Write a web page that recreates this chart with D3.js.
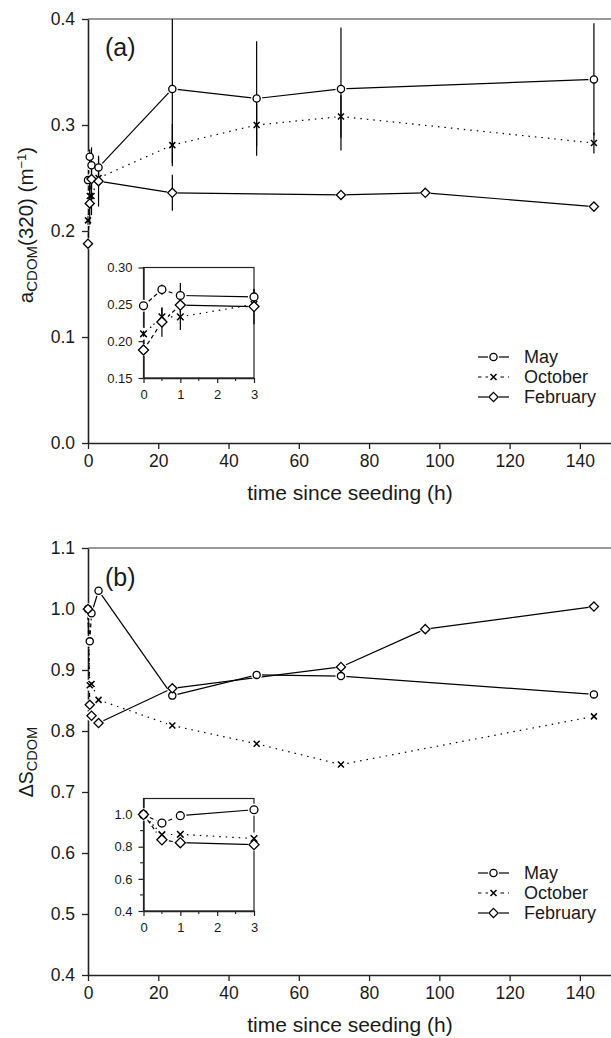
<!DOCTYPE html>
<html>
<head>
<meta charset="utf-8">
<script src="https://cdn.jsdelivr.net/npm/d3@7"></script>
<style>
body { margin: 0; background: #fff; }
text { font-family: "Liberation Sans", Arial, sans-serif; fill: #1a1a1a; }
</style>
</head>
<body>
<div id="chart"></div>
<script>
var width = 611;
var height = 1038;

// sampling times (h) per campaign
var tMay = [0, 0.5, 1, 3, 24, 48, 72, 144];
var tOct = [0, 0.5, 1, 3, 24, 48, 72, 144];
var tFeb = [0, 0.5, 1, 3, 24, 72, 96, 144];

// panel (a): aCDOM(320) and its error bars
var aMay    = [0.248, 0.270, 0.262, 0.260, 0.334, 0.325, 0.334, 0.343];
var aMayErr = [0, 0.007, 0.017, 0.010, 0.070, 0.054, 0.058, 0.053];
var aOct    = [0.210, 0.233, 0.233, 0.250, 0.281, 0.300, 0.308, 0.283];
var aOctErr = [0.004, 0.012, 0.018, 0.005, 0.020, 0.020, 0.020, 0.010];
var aFeb    = [0.188, 0.226, 0.249, 0.247, 0.236, 0.234, 0.236, 0.223];
var aFebErr = [0, 0.020, 0.010, 0.024, 0.017, 0, 0, 0];

// panel (b): delta S_CDOM
var sMay = [1.000, 0.947, 0.993, 1.030, 0.858, 0.892, 0.890, 0.860];
var sOct = [1.000, 0.875, 0.877, 0.851, 0.809, 0.779, 0.745, 0.824];
var sFeb = [1.000, 0.843, 0.825, 0.813, 0.870, 0.905, 0.967, 1.004];

var seriesNames = ["May", "October", "February"];
var xTicks = [0, 20, 40, 60, 80, 100, 120, 140];
var aTicks = [0.0, 0.1, 0.2, 0.3, 0.4];
var sTicks = [0.4, 0.5, 0.6, 0.7, 0.8, 0.9, 1.0, 1.1];
var insetXTicks = [0, 1, 2, 3];
var insetXMinor = [0.5, 1.5, 2.5];
var insetATicks = [0.15, 0.20, 0.25, 0.30];
var insetSTicks = [0.4, 0.6, 0.8, 1.0];
var insetSMinor = [0.5, 0.7, 0.9];

var svg = d3.select("#chart").append("svg")
    .attr("width", width)
    .attr("height", height);

var markerType = {May: "circle", October: "cross", February: "diamond"};

function drawMarker(g, type, cx, cy, s) {
    if (type === "circle") {
        g.append("circle").attr("cx", cx).attr("cy", cy).attr("r", 3.6 * s)
            .attr("fill", "#fff").attr("stroke", "#000").attr("stroke-width", 1.3);
    } else if (type === "diamond") {
        var r = 4.6 * s;
        g.append("path")
            .attr("d", "M" + cx + "," + (cy - r) + "L" + (cx + r) + "," + cy + "L" + cx + "," + (cy + r) + "L" + (cx - r) + "," + cy + "Z")
            .attr("fill", "#fff").attr("stroke", "#000").attr("stroke-width", 1.3);
    } else {
        var c = 3 * s;
        g.append("path")
            .attr("d", "M" + (cx - c) + "," + (cy - c) + "L" + (cx + c) + "," + (cy + c) + "M" + (cx - c) + "," + (cy + c) + "L" + (cx + c) + "," + (cy - c))
            .attr("fill", "none").attr("stroke", "#000").attr("stroke-width", 1.5);
    }
}

// dash for a segment ending at time t
function segDash(name, t) {
    if (name === "October") return t <= 1 ? "1.5,3" : "1.5,5";
    return t <= 1 ? "4,3" : null;
}

function drawSeries(g, x, y, series, tMax, s, clipId) {
    var lines = g.append("g");
    var halos = g.append("g");
    var bars = g.append("g").attr("clip-path", "url(#" + clipId + ")");
    var marks = g.append("g");
    series.forEach(function(d) {
        var pts = d.t.map(function(t, i) { return {t: t, v: d.v[i], e: d.e ? d.e[i] : 0}; })
            .filter(function(p) { return p.t <= tMax; });
        for (var i = 0; i < pts.length - 1; i++) {
            lines.append("line")
                .attr("x1", x(pts[i].t)).attr("y1", y(pts[i].v))
                .attr("x2", x(pts[i + 1].t)).attr("y2", y(pts[i + 1].v))
                .attr("stroke", "#000").attr("stroke-width", 1.2)
                .attr("stroke-dasharray", segDash(d.name, pts[i + 1].t));
        }
        pts.forEach(function(p) {
            halos.append("circle").attr("cx", x(p.t)).attr("cy", y(p.v))
                .attr("r", 5.5 * s).attr("fill", "#fff");
            if (p.e > 0) {
                bars.append("line")
                    .attr("x1", x(p.t)).attr("x2", x(p.t))
                    .attr("y1", y(p.v - p.e)).attr("y2", y(p.v + p.e))
                    .attr("stroke", "#000").attr("stroke-width", 1.2);
            }
        });
        pts.forEach(function(p) {
            drawMarker(marks, markerType[d.name], x(p.t), y(p.v), s);
        });
    });
}

function drawPanel(p) {
    var x = d3.scaleLinear().domain([0, 150]).range([88, 615]);
    var y = d3.scaleLinear().domain(p.yDomain).range([p.bottom, p.top]);
    var g = svg.append("g");

    svg.append("clipPath").attr("id", p.id + "clip")
        .append("rect").attr("x", 80).attr("y", p.top)
        .attr("width", 540).attr("height", p.bottom - p.top);

    g.append("line")
        .attr("x1", 88).attr("x2", 615).attr("y1", p.top).attr("y2", p.top)
        .attr("stroke", "#777").attr("stroke-width", 1.6);

    var xAxis = d3.axisBottom(x).tickValues(xTicks).tickSize(6).tickSizeOuter(0).tickPadding(6)
        .tickFormat(d3.format("d"));
    var gx = g.append("g").attr("transform", "translate(0," + p.bottom + ")").call(xAxis);
    var yAxis = d3.axisLeft(y).tickValues(p.yTicks).tickSize(6).tickSizeOuter(0).tickPadding(7)
        .tickFormat(d3.format(".1f"));
    var gy = g.append("g").attr("transform", "translate(88,0)").call(yAxis);
    [gx, gy].forEach(function(a) {
        a.select(".domain").attr("stroke", "#222").attr("stroke-width", 1.6);
        a.selectAll(".tick line").attr("stroke", "#222").attr("stroke-width", 1.3);
        a.selectAll(".tick text").style("font-size", "17.5px").attr("fill", "#1a1a1a");
    });

    g.append("text").attr("x", 350).attr("y", p.bottom + 57)
        .attr("text-anchor", "middle").style("font-size", "21px")
        .text("time since seeding (h)");

    g.append("text").attr("x", 105).attr("y", p.labelY)
        .style("font-size", "25px").text(p.label);

    drawSeries(g, x, y, p.series, 150, 1, p.id + "clip");

    // legend
    var lg = g.append("g");
    seriesNames.forEach(function(name, i) {
        var ly = p.legendY + i * 20;
        lg.append("line").attr("x1", 478).attr("x2", 509).attr("y1", ly).attr("y2", ly)
            .attr("stroke", "#000").attr("stroke-width", 1.2)
            .attr("stroke-dasharray", name === "October" ? "3.5,4" : null);
        lg.append("circle").attr("cx", 493.5).attr("cy", ly).attr("r", 5.5).attr("fill", "#fff");
        drawMarker(lg, markerType[name], 493.5, ly, 1);
        lg.append("text").attr("x", 524).attr("y", ly + 6).style("font-size", "18px").text(name);
    });
    return g;
}

function drawInset(p) {
    var x = d3.scaleLinear().domain([0, 3]).range([143.5, 254]);
    var y = d3.scaleLinear().domain(p.yDomain).range([p.bottom, p.top]);
    var g = svg.append("g");

    svg.append("clipPath").attr("id", p.id + "clip")
        .append("rect").attr("x", 130).attr("y", p.top)
        .attr("width", 140).attr("height", p.bottom - p.top);

    g.append("rect").attr("x", 143.5).attr("y", p.top)
        .attr("width", 254 - 143.5).attr("height", p.bottom - p.top)
        .attr("fill", "#fff").attr("stroke", "#222").attr("stroke-width", 1.2);

    var xAxis = d3.axisBottom(x).tickValues(insetXTicks).tickSize(5).tickSizeOuter(0).tickPadding(7)
        .tickFormat(d3.format("d"));
    var gx = g.append("g").attr("transform", "translate(0," + p.bottom + ")").call(xAxis);
    var yAxis = d3.axisLeft(y).tickValues(p.yTicks).tickSize(5).tickSizeOuter(0).tickPadding(6)
        .tickFormat(d3.format(p.fmt));
    var gy = g.append("g").attr("transform", "translate(143.5,0)").call(yAxis);
    [gx, gy].forEach(function(a) {
        a.select(".domain").attr("stroke", "#222").attr("stroke-width", 1.4);
        a.selectAll(".tick line").attr("stroke", "#222").attr("stroke-width", 1.2);
        a.selectAll(".tick text").style("font-size", "13px").attr("fill", "#1a1a1a");
    });
    // minor ticks
    insetXMinor.forEach(function(t) {
        g.append("line").attr("x1", x(t)).attr("x2", x(t))
            .attr("y1", p.bottom).attr("y2", p.bottom + 3)
            .attr("stroke", "#222").attr("stroke-width", 1.1);
    });
    p.yMinor.forEach(function(v) {
        g.append("line").attr("x1", 143.5).attr("x2", 140)
            .attr("y1", y(v)).attr("y2", y(v))
            .attr("stroke", "#222").attr("stroke-width", 1.1);
    });

    drawSeries(g, x, y, p.series, 3, 1.1, p.id + "clip");
}

var seriesA = [
    {name: "May", t: tMay, v: aMay, e: aMayErr},
    {name: "October", t: tOct, v: aOct, e: aOctErr},
    {name: "February", t: tFeb, v: aFeb, e: aFebErr}
];
var seriesB = [
    {name: "May", t: tMay, v: sMay},
    {name: "October", t: tOct, v: sOct},
    {name: "February", t: tFeb, v: sFeb}
];

drawPanel({id: "pa", yDomain: [0, 0.4], top: 19, bottom: 443, yTicks: aTicks,
    label: "(a)", labelY: 56, legendY: 357, series: seriesA});
drawInset({id: "ia", yDomain: [0.15, 0.30], top: 267.5, bottom: 378, yTicks: insetATicks,
    yMinor: [], fmt: ".2f", series: seriesA});

drawPanel({id: "pb", yDomain: [0.4, 1.1], top: 548, bottom: 975, yTicks: sTicks,
    label: "(b)", labelY: 586, legendY: 873, series: seriesB});
drawInset({id: "ib", yDomain: [0.4, 1.1], top: 798.5, bottom: 911, yTicks: insetSTicks,
    yMinor: insetSMinor, fmt: ".1f", series: seriesB});

// y axis titles
var ta = svg.append("text")
    .attr("transform", "translate(33,225) rotate(-90)")
    .attr("text-anchor", "middle")
    .style("font-size", "20.5px");
ta.append("tspan").text("a");
ta.append("tspan").attr("dy", 4).style("font-size", "15px").text("CDOM");
ta.append("tspan").attr("dy", -4).text("(320) (m");
ta.append("tspan").attr("dy", -7).style("font-size", "13px").text("\u22121");
ta.append("tspan").attr("dy", 7).text(")");

var tb = svg.append("text")
    .attr("transform", "translate(33,762) rotate(-90)")
    .attr("text-anchor", "middle")
    .style("font-size", "19.5px");
tb.append("tspan").text("\u0394S");
tb.append("tspan").attr("dy", 4).style("font-size", "14.5px").text("CDOM");
</script>
</body>
</html>
